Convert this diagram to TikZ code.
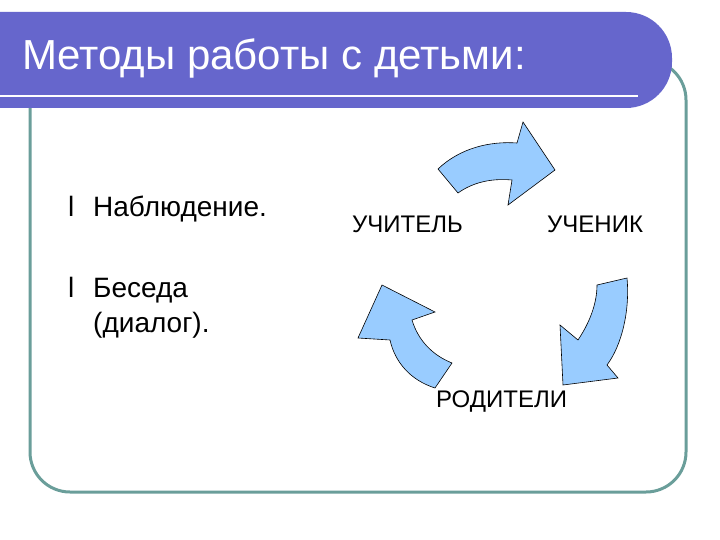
\documentclass[tikz,border=0pt]{standalone}
\usepackage{fontspec}
\setmainfont{Liberation Sans}
\definecolor{band}{HTML}{6666CC}
\definecolor{frame}{HTML}{6A9E9A}
\definecolor{arr}{HTML}{99CCFF}
\begin{document}
\begin{tikzpicture}[x=1pt,y=-1pt]
\tikzset{arrowshape/.style={fill=arr,draw=black,line width=0.6pt,line join=miter},
 lbl/.style={anchor=base west,font=\fontsize{24}{26}\selectfont,inner sep=0pt},
 itm/.style={anchor=base west,font=\fontsize{28}{33}\selectfont,inner sep=0pt,align=left}}
\useasboundingbox (0,0) rectangle (720,540);
\fill[white] (0,0) rectangle (720,540);
\draw[frame,line width=3pt,rounded corners=40pt] (30,60) rectangle (686,492);
\fill[band,rounded corners=46pt] (-60,12) rectangle (672,108);
\fill[band] (0,12) rectangle (100,108);
\draw[white,line width=2pt] (0,96) -- (638,96);
\node[anchor=base west,text=white,font=\fontsize{42}{46}\selectfont,inner sep=0pt] (title) at (22,70) {Методы работы с детьми:};
\node[itm] (b1) at (68,217) {l};
\node[itm] (i1) at (93,217) {Наблюдение.};
\node[itm] (b2) at (68,297) {l};
\node[itm] (i2) at (93,297) {Беседа};
\node[itm] (i3) at (93,332) {(диалог).};
\node[lbl] (t) at (352,233) {УЧИТЕЛЬ};
\node[lbl] (s) at (547,233) {УЧЕНИК};
\node[lbl] (p) at (436,407) {РОДИТЕЛИ};
\draw[arrowshape] (438,169) .. controls (460,148) and (490,141) .. (517,143) -- (523,122) -- (555,170) -- (508,205) -- (512,180) .. controls (490,178) and (472,183) .. (458,193) -- cycle;
\draw[arrowshape] (627,278) .. controls (630,310) and (622,345) .. (607,365) -- (618,378) -- (563,385) -- (560,325) -- (578,340) .. controls (590,322) and (597,303) .. (597,285) -- cycle;
\draw[arrowshape] (435,388) .. controls (410,380) and (395,362) .. (390,340) -- (358,338) -- (382,285) -- (435,312) -- (412,320) .. controls (418,340) and (432,355) .. (452,363) -- cycle;
\end{tikzpicture}
\end{document}
